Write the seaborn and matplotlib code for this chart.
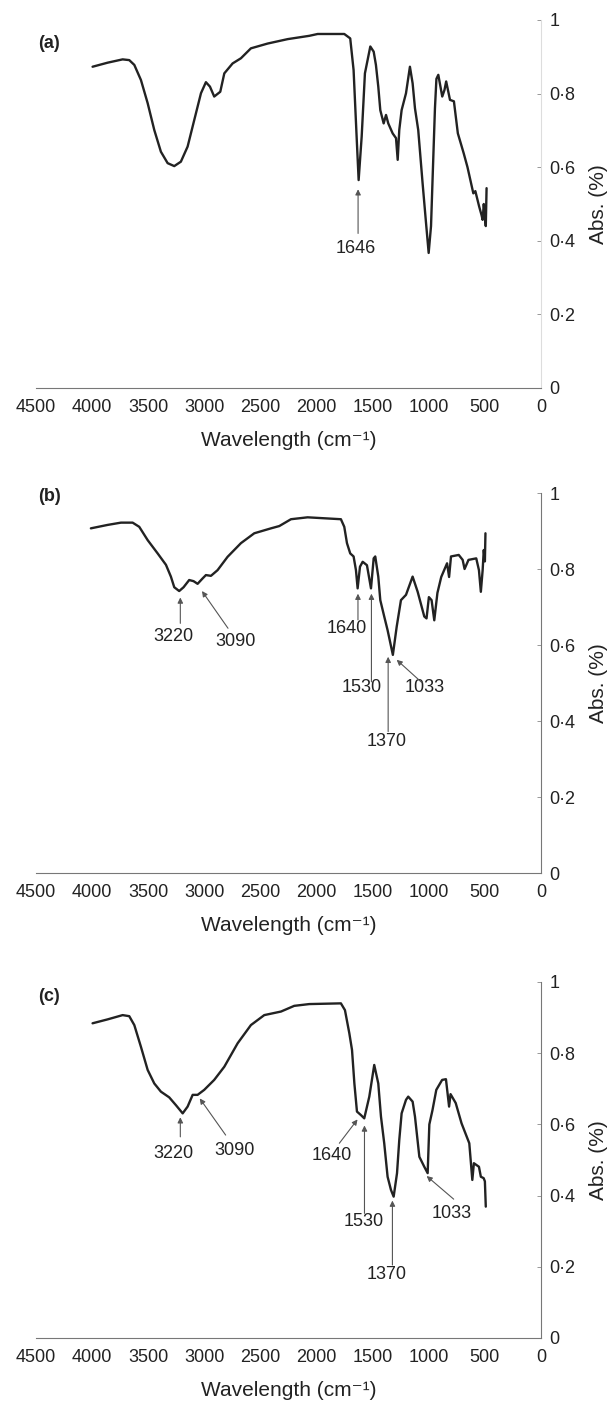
import numpy as np
import pandas as pd
import matplotlib
matplotlib.use("Agg")
import matplotlib.pyplot as plt
import seaborn as sns

# ---------------- data ----------------
wn_a = [3996, 3862, 3728, 3669, 3624, 3565, 3505, 3446, 3387, 3327, 3268, 3209, 3149, 3090,
        3030, 2986, 2950, 2912, 2858, 2822, 2748, 2674, 2585, 2436, 2258, 2065, 1990, 1753,
        1700, 1670, 1643, 1625, 1598, 1569, 1521, 1491, 1471, 1450, 1432, 1402, 1381, 1361,
        1322, 1292, 1277, 1263, 1242, 1203, 1168, 1144, 1123, 1094, 1055, 1025, 1001, 980,
        967, 945, 932, 915, 880, 860, 845, 811, 776, 741, 689, 655, 603, 585, 551, 530, 520,
        510, 500, 492, 485]
ab_a = [0.873, 0.884, 0.893, 0.891, 0.878, 0.837, 0.774, 0.701, 0.642, 0.611, 0.603, 0.615,
        0.656, 0.728, 0.801, 0.831, 0.819, 0.792, 0.805, 0.855, 0.882, 0.896, 0.923, 0.936,
        0.948, 0.957, 0.962, 0.962, 0.950, 0.864, 0.683, 0.565, 0.683, 0.855, 0.928, 0.914,
        0.878, 0.819, 0.755, 0.719, 0.742, 0.719, 0.692, 0.679, 0.620, 0.701, 0.755, 0.801,
        0.873, 0.828, 0.760, 0.701, 0.556, 0.450, 0.367, 0.440, 0.560, 0.760, 0.840, 0.851,
        0.792, 0.810, 0.833, 0.783, 0.779, 0.692, 0.638, 0.600, 0.529, 0.535, 0.493, 0.470,
        0.457, 0.500, 0.470, 0.440, 0.543]

wn_b = [4011, 3862, 3743, 3639, 3580, 3505, 3416, 3342, 3298, 3268, 3224, 3185, 3135, 3096,
        3060, 3016, 2986, 2941, 2882, 2793, 2674, 2555, 2406, 2332, 2228, 2080, 1783, 1753,
        1729, 1700, 1670, 1649, 1634, 1613, 1589, 1551, 1515, 1491, 1477, 1450, 1432, 1397,
        1367, 1320, 1286, 1248, 1203, 1144, 1099, 1040, 1020, 999, 975, 951, 923, 889, 837,
        819, 802, 733, 698, 681, 646, 577, 553, 536, 520, 510, 500, 495]
ab_b = [0.907, 0.916, 0.922, 0.922, 0.911, 0.876, 0.841, 0.811, 0.780, 0.752, 0.742, 0.752,
        0.771, 0.768, 0.761, 0.775, 0.784, 0.782, 0.797, 0.832, 0.868, 0.894, 0.907, 0.913,
        0.931, 0.936, 0.931, 0.911, 0.868, 0.841, 0.833, 0.797, 0.749, 0.806, 0.819, 0.810,
        0.749, 0.828, 0.833, 0.780, 0.718, 0.675, 0.639, 0.574, 0.648, 0.718, 0.732, 0.780,
        0.740, 0.675, 0.670, 0.726, 0.718, 0.665, 0.737, 0.779, 0.815, 0.779, 0.833, 0.837,
        0.824, 0.800, 0.824, 0.828, 0.797, 0.740, 0.797, 0.850, 0.820, 0.894]

wn_c = [3996, 3862, 3728, 3669, 3624, 3565, 3505, 3446, 3387, 3313, 3253, 3193, 3149, 3104,
        3060, 3001, 2912, 2822, 2703, 2585, 2466, 2317, 2199, 2065, 1783, 1747, 1708, 1684,
        1663, 1640, 1604, 1575, 1530, 1486, 1450, 1426, 1397, 1367, 1337, 1313, 1283, 1263,
        1242, 1203, 1183, 1144, 1123, 1084, 1040, 1010, 995, 967, 933, 881, 847, 819, 806,
        760, 708, 639, 612, 598, 553, 536, 511, 500, 492]
ab_c = [0.884, 0.895, 0.907, 0.904, 0.879, 0.818, 0.753, 0.715, 0.692, 0.676, 0.654, 0.631,
        0.650, 0.683, 0.683, 0.697, 0.725, 0.762, 0.828, 0.879, 0.907, 0.917, 0.933, 0.938,
        0.940, 0.921, 0.856, 0.809, 0.715, 0.636, 0.626, 0.617, 0.678, 0.767, 0.715, 0.622,
        0.547, 0.453, 0.416, 0.397, 0.463, 0.556, 0.631, 0.669, 0.678, 0.664, 0.622, 0.509,
        0.481, 0.463, 0.600, 0.640, 0.697, 0.725, 0.727, 0.650, 0.685, 0.660, 0.603, 0.547,
        0.444, 0.491, 0.481, 0.453, 0.449, 0.440, 0.369]

panel_labels = ["(a)", "(b)", "(c)"]
x_ticks = [4500, 4000, 3500, 3000, 2500, 2000, 1500, 1000, 500, 0]
y_ticks = [0, 0.2, 0.4, 0.6, 0.8, 1.0]
y_tick_labels = ["0", "0·2", "0·4", "0·6", "0·8", "1"]

# annotations: (text, text_x, text_y, arrow_start_x, arrow_start_y, arrow_end_x, arrow_end_y)
ann_a = [("1646", 1650, 0.38, 1630, 0.42, 1630, 0.54)]
ann_b = [("3220", 3273, 0.622, 3214, 0.657, 3214, 0.725),
         ("3090", 2720, 0.609, 2789, 0.644, 3021, 0.742),
         ("1640", 1735, 0.644, 1631, 0.666, 1631, 0.735),
         ("1530", 1597, 0.488, 1511, 0.503, 1511, 0.735),
         ("1370", 1372, 0.347, 1362, 0.372, 1362, 0.569),
         ("1033", 1034, 0.488, 1061, 0.501, 1286, 0.561)]
ann_c = [("3220", 3273, 0.519, 3214, 0.565, 3214, 0.620),
         ("3090", 2730, 0.528, 2810, 0.570, 3041, 0.673),
         ("1640", 1866, 0.514, 1797, 0.547, 1635, 0.614),
         ("1530", 1579, 0.327, 1573, 0.350, 1573, 0.597),
         ("1370", 1376, 0.177, 1324, 0.205, 1324, 0.386),
         ("1033", 795, 0.350, 778, 0.390, 1019, 0.455)]

# ---------------- style ----------------
sns.set_theme(style="white")
plt.rcParams["font.family"] = ["Liberation Sans", "DejaVu Sans"]

W, H = 609, 1405
fig = plt.figure(figsize=(W / 100, H / 100), dpi=100)
positions = [
    [36 / W, 1 - 388 / H, 505 / W, 368 / H],
    [36 / W, 1 - 873 / H, 505 / W, 380 / H],
    [36 / W, 1 - 1338 / H, 505 / W, 356 / H],
]
datasets = [(wn_a, ab_a, ann_a), (wn_b, ab_b, ann_b), (wn_c, ab_c, ann_c)]
label_y = [0.935, 0.990, 0.959]
txt = "#222222"

for i, (pos, (wn, ab, anns)) in enumerate(zip(positions, datasets)):
    ax = fig.add_axes(pos)
    df = pd.DataFrame({"wn": wn, "ab": ab})
    sns.lineplot(data=df, x="wn", y="ab", ax=ax, color="#222222", lw=1.7,
                 estimator=None, sort=False)
    ax.set_xlim(4500, 0)
    ax.set_ylim(0, 1)
    ax.set_xticks(x_ticks)
    ax.set_xticklabels([str(t) for t in x_ticks], fontsize=13, color=txt)
    ax.yaxis.tick_right()
    ax.yaxis.set_label_position("right")
    ax.set_yticks(y_ticks)
    ax.set_yticklabels(y_tick_labels, fontsize=13, color=txt)
    ax.tick_params(axis="both", direction="in", length=3, width=0.6, colors="#888888",
                   labelcolor=txt)
    ax.tick_params(axis="x", pad=8)
    ax.tick_params(axis="y", pad=6)
    for s in ["top", "left"]:
        ax.spines[s].set_visible(False)
    ax.spines["bottom"].set_color("#777777")
    ax.spines["bottom"].set_linewidth(0.8)
    ax.spines["right"].set_color("#dddddd" if i == 0 else "#777777")
    ax.spines["right"].set_linewidth(0.8)
    ax.set_xlabel("Wavelength (cm⁻¹)", fontsize=15, color=txt, labelpad=11)
    ax.set_ylabel("Abs. (%)", fontsize=15, color=txt, labelpad=10)
    ax.grid(False)
    ax.text(4380, label_y[i], panel_labels[i], fontsize=13, fontweight="bold",
            ha="center", va="center", color=txt)
    for (t, tx, ty, sx, sy, ex, ey) in anns:
        ax.text(tx, ty, t, fontsize=13, ha="center", va="center", color=txt)
        ax.annotate("", xy=(ex, ey), xytext=(sx, sy),
                    arrowprops=dict(arrowstyle="-|>", color="#555555", lw=0.8,
                                    mutation_scale=8, shrinkA=0, shrinkB=0))

fig.savefig("out.png", dpi=100)
